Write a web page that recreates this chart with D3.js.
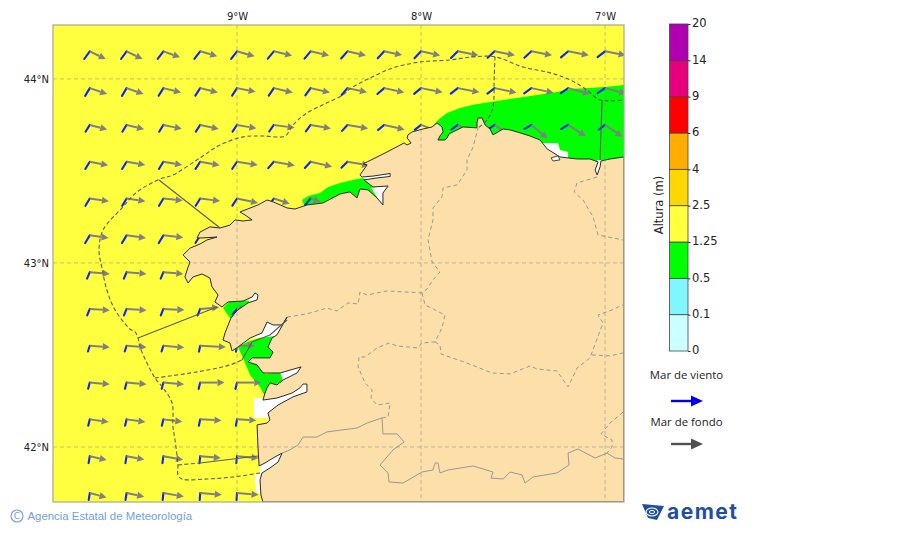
<!DOCTYPE html>
<html>
<head>
<meta charset="utf-8">
<script src="https://cdn.jsdelivr.net/npm/d3@7"></script>
<style>
  body { margin: 0; background: #fff; }
  svg { display: block; }
  text { font-family: "DejaVu Sans", sans-serif; fill: #222; }
</style>
</head>
<body>
<svg id="chart" width="900" height="533"></svg>
<script>
// colorbar
const levels = ['0', '0.1', '0.5', '1.25', '2.5', '4', '6', '9', '14', '20'];
const levelColors = ['#ccffff', '#80f6ff', '#00ff00', '#ffff40', '#ffd700', '#ffae00', '#ff0000', '#e6007e', '#b000b0'];

const lonTicks = [-9, -8, -7];
const latTicks = [44, 43, 42];

// wave grid, one row per latitude, null = over land
const gridLons = [-9.8, -9.6, -9.4, -9.2, -9.0, -8.8, -8.6, -8.4, -8.2, -8.0, -7.8, -7.6, -7.4, -7.2, -7.0];
const gridLats = [44.15, 43.95, 43.75, 43.55, 43.35, 43.15, 42.95, 42.75, 42.55, 42.35, 42.15, 41.95, 41.75];

const windDir = [
  [36, 36, 37, 38, 38, 39, 40, 41, 43, 44, 46, 47, 48, 50, 52],
  [31, 31, 32, 33, 33, 34, 36, 40, 49, 50, 52, 53, 54, 56, 56],
  [32, 32, 32, 33, 34, 35, 36, 42, 50, 52, 54, 56, 60, 60, 53],
  [32, 32, 32, 33, 34, 41, 43, 45],
  [31, 31, 31, 32, 33, 36, 40],
  [31, 31, 31, 32],
  [23, 23, 23],
  [22, 22, 22, 22, 40],
  [18, 18, 18, 12, 10],
  [15, 15, 15, 14, 14],
  [14, 14, 14, 12, 10],
  [10, 10, 8, 6, 6],
  [9, 9, 6, 4, 4]
];
const windHeight = [0.95, 0.9, 0.8, 0.85, 0.85, 0.9, 0.7, 0.7, 0.6, 0.65, 0.65, 0.7, 0.7];

const swellDir = [
  [116, 116, 110, 106, 106, 103, 103, 103, 102, 102, 101, 101, 101, 101, 101],
  [109, 109, 104, 104, 101, 103, 103, 102, 102, 101, 101, 102, 102, 105, 105],
  [105, 104, 102, 102, 100, 98, 100, 100, 103, 110, 118, 125, 130, 123, 124],
  [101, 100, 100, 100, 99, 100, 103, 100],
  [98, 98, 96, 97, 102, 108, 108],
  [98, 98, 96, 96],
  [95, 95, 95],
  [94, 94, 93, 85, 80],
  [94, 94, 95, 93, 90],
  [95, 95, 95, 90, 90],
  [98, 98, 97, 93, 93],
  [103, 101, 100, 95, 95],
  [105, 102, 100, 95, 95]
];
const swellHeight = [
  [1.77, 1.77, 1.77, 1.77, 1.83, 1.88, 1.9, 1.9, 1.83, 1.96, 2.1, 2.07, 2.1, 2.1, 2.1],
  [1.83, 1.8, 1.82, 1.82, 1.9, 1.95, 1.98, 2.0, 2.05, 2.2, 2.2, 2.24, 2.26, 2.26, 2.2],
  [1.8, 1.8, 1.88, 1.9, 1.96, 2.1, 2.06, 2.1, 2.1, 2.0, 2.0, 2.1, 2.1, 2.1, 2.1],
  [1.87, 1.9, 1.9, 1.97, 2.1, 2.13, 2.2, 2.2],
  [1.93, 1.9, 1.94, 2.0, 2.15, 1.67, 1.05],
  [1.9, 1.95, 2.0, 2.0],
  [2.0, 2.0, 2.0],
  [2.0, 2.0, 2.1, 1.9, 1.0],
  [2.0, 2.0, 2.1, 2.57, 1.8],
  [2.0, 2.0, 2.07, 2.43, 2.43],
  [1.9, 1.9, 1.9, 2.13, 1.94],
  [1.73, 1.8, 2.0, 2.07, 2.17],
  [1.73, 1.8, 2.07, 2.17, 2.17]
];

// land outline, lon/lat
const land = [[-6.897,43.576],[-6.973,43.565],[-7.022,43.554],[-7.027,43.522],[-7.043,43.478],[-7.054,43.505],[-7.038,43.549],[-7.082,43.565],[-7.152,43.565],[-7.245,43.576],[-7.315,43.620],[-7.353,43.668],[-7.408,43.690],[-7.462,43.707],[-7.516,43.723],[-7.554,43.728],[-7.609,43.696],[-7.625,43.728],[-7.652,43.750],[-7.668,43.788],[-7.690,43.788],[-7.696,43.761],[-7.696,43.734],[-7.772,43.739],[-7.826,43.712],[-7.848,43.701],[-7.859,43.679],[-7.870,43.668],[-7.908,43.668],[-7.897,43.690],[-7.880,43.712],[-7.886,43.739],[-7.913,43.761],[-7.940,43.739],[-7.989,43.728],[-8.049,43.712],[-8.071,43.696],[-8.076,43.679],[-8.054,43.652],[-8.076,43.641],[-8.092,43.652],[-8.185,43.603],[-8.293,43.549],[-8.315,43.538],[-8.293,43.533],[-8.332,43.478],[-8.321,43.467],[-8.261,43.472],[-8.168,43.486],[-8.168,43.470],[-8.239,43.462],[-8.310,43.451],[-8.261,43.413],[-8.179,43.418],[-8.207,43.380],[-8.207,43.315],[-8.239,43.353],[-8.288,43.397],[-8.332,43.402],[-8.348,43.353],[-8.386,43.386],[-8.440,43.375],[-8.533,43.326],[-8.620,43.315],[-8.685,43.293],[-8.728,43.299],[-8.804,43.332],[-8.837,43.342],[-8.886,43.315],[-8.984,43.277],[-8.957,43.261],[-8.918,43.234],[-8.967,43.228],[-9.011,43.234],[-9.038,43.206],[-9.092,43.190],[-9.147,43.196],[-9.201,43.168],[-9.217,43.136],[-9.185,43.136],[-9.109,43.141],[-9.163,43.125],[-9.201,43.103],[-9.255,43.081],[-9.293,43.043],[-9.255,43.005],[-9.266,42.978],[-9.283,42.924],[-9.266,42.891],[-9.239,42.924],[-9.190,42.940],[-9.147,42.918],[-9.136,42.870],[-9.103,42.826],[-9.120,42.788],[-9.082,42.761],[-9.049,42.788],[-8.967,42.793],[-8.918,42.815],[-8.902,42.837],[-8.886,42.826],[-8.891,42.799],[-8.940,42.783],[-8.995,42.745],[-9.011,42.728],[-9.033,42.701],[-9.065,42.620],[-9.076,42.581],[-9.038,42.565],[-9.027,42.522],[-8.995,42.543],[-8.929,42.592],[-8.864,42.620],[-8.837,42.679],[-8.804,42.663],[-8.755,42.663],[-8.728,42.706],[-8.783,42.609],[-8.810,42.592],[-8.832,42.543],[-8.804,42.516],[-8.821,42.484],[-8.918,42.484],[-8.940,42.462],[-8.891,42.446],[-8.859,42.402],[-8.766,42.402],[-8.652,42.435],[-8.674,42.402],[-8.750,42.364],[-8.783,42.337],[-8.821,42.348],[-8.837,42.321],[-8.848,42.293],[-8.859,42.255],[-8.783,42.266],[-8.701,42.293],[-8.658,42.321],[-8.641,42.342],[-8.620,42.342],[-8.620,42.299],[-8.696,42.272],[-8.777,42.228],[-8.832,42.185],[-8.821,42.147],[-8.837,42.130],[-8.891,42.120],[-8.886,42.000],[-8.880,41.897],[-8.848,41.913],[-8.804,41.940],[-8.755,41.967],[-8.777,41.918],[-8.821,41.886],[-8.864,41.859],[-8.875,41.821],[-8.870,41.739],[-8.859,41.701],[-6.897,41.701]];

// sea classes under the wave arrows
const greenSea = [
  [[-7.935,43.745],[-7.908,43.777],[-7.859,43.815],[-7.788,43.842],[-7.717,43.859],[-7.625,43.875],[-7.478,43.897],[-7.370,43.913],[-7.261,43.929],[-7.174,43.946],[-7.082,43.951],[-6.989,43.957],[-6.897,43.967],[-6.897,43.533],[-7.353,43.533],[-7.679,43.614],[-7.935,43.614]],
  [[-8.647,43.342],[-8.614,43.364],[-8.549,43.380],[-8.505,43.413],[-8.440,43.435],[-8.348,43.456],[-8.315,43.462],[-8.250,43.413],[-8.234,43.342],[-8.533,43.288],[-8.630,43.299]],
  [[-9.076,42.755],[-9.038,42.793],[-8.967,42.799],[-8.902,42.788],[-8.995,42.701],[-9.038,42.701]],
  [[-8.995,42.543],[-8.946,42.571],[-8.875,42.592],[-8.793,42.603],[-8.777,42.527],[-8.777,42.462],[-8.864,42.440],[-8.848,42.397],[-8.750,42.408],[-8.750,42.364],[-8.821,42.310],[-8.848,42.277],[-8.875,42.326],[-8.929,42.391],[-8.967,42.484]]
];
const whiteSea = [
  [[-8.272,43.408],[-8.179,43.418],[-8.207,43.315],[-8.239,43.358]],
  [[-8.321,43.467],[-8.168,43.489],[-8.168,43.467],[-8.310,43.451]],
  [[-8.929,42.810],[-8.902,42.848],[-8.875,42.826],[-8.886,42.793],[-8.940,42.777]],
  [[-8.929,42.592],[-8.864,42.630],[-8.837,42.690],[-8.728,42.717],[-8.793,42.598]],
  [[-8.766,42.408],[-8.647,42.440],[-8.674,42.397],[-8.750,42.359]],
  [[-8.908,42.266],[-8.859,42.266],[-8.603,42.353],[-8.603,42.288],[-8.766,42.212],[-8.832,42.158],[-8.908,42.158]],
  [[-8.880,41.891],[-8.745,41.978],[-8.777,41.908],[-8.864,41.848]],
  [[-8.902,41.853],[-8.864,41.864],[-8.859,41.728],[-8.897,41.761]],
  [[-7.337,43.652],[-7.255,43.652],[-7.245,43.614],[-7.201,43.603],[-7.201,43.560],[-7.255,43.560],[-7.337,43.614]],
  [[-7.016,43.560],[-7.022,43.516],[-7.043,43.473],[-7.060,43.505],[-7.043,43.560]]
];
const islet = [[-7.293,43.571],[-7.255,43.582],[-7.245,43.560],[-7.283,43.554]];

// marine zone limits
const zoneDashed = [
  [[-8.875,41.859],[-9.022,41.837],[-9.163,41.826],[-9.299,41.826],[-9.321,41.848],[-9.321,41.902],[-9.337,42.038],[-9.348,42.109],[-9.353,42.239],[-9.402,42.321],[-9.446,42.375],[-9.527,42.543],[-9.538,42.592],[-9.554,42.625],[-9.582,42.641],[-9.663,42.745],[-9.707,42.853],[-9.734,42.973],[-9.750,43.071],[-9.728,43.179],[-9.625,43.299],[-9.543,43.386],[-9.418,43.456],[-9.348,43.478],[-9.201,43.571],[-9.092,43.641],[-8.967,43.685],[-8.859,43.690],[-8.739,43.690],[-8.696,43.750],[-8.620,43.815],[-8.511,43.870],[-8.424,43.913],[-8.386,43.946],[-8.277,44.005],[-8.152,44.060],[-8.005,44.092],[-7.842,44.103],[-7.717,44.120],[-7.598,44.120],[-7.446,44.065],[-7.299,44.033],[-7.190,43.995],[-7.098,43.940],[-7.027,43.886],[-6.897,43.886]],
  [[-7.598,44.120],[-7.603,43.995],[-7.609,43.848],[-7.641,43.777],[-7.690,43.734]],
  [[-9.446,42.375],[-9.217,42.408],[-9.038,42.446],[-8.973,42.473]],
  [[-9.321,41.902],[-9.201,41.913]]
];
const zoneSolid = [
  [[-8.973,42.473],[-8.918,42.571],[-8.821,42.609],[-8.728,42.690]],
  [[-9.424,43.451],[-9.092,43.190]],
  [[-9.538,42.592],[-9.109,42.761]],
  [[-9.201,41.913],[-8.886,41.951]],
  [[-7.016,43.886],[-7.027,43.560]]
];

// provinces and the Portuguese border
const provinces = [
  [[-8.728,42.706],[-8.658,42.717],[-8.603,42.728],[-8.511,42.755],[-8.457,42.739],[-8.397,42.783],[-8.342,42.777],[-8.332,42.842],[-8.293,42.826],[-8.185,42.848],[-7.995,42.837],[-7.967,42.859],[-7.935,42.908],[-7.897,42.951],[-7.940,43.005],[-7.962,43.125],[-7.935,43.234],[-7.935,43.299],[-7.886,43.359],[-7.880,43.408],[-7.804,43.424],[-7.750,43.505],[-7.750,43.560],[-7.717,43.630],[-7.690,43.734]],
  [[-7.995,42.837],[-7.978,42.772],[-7.870,42.717],[-7.886,42.647],[-7.924,42.571],[-7.995,42.565],[-8.016,42.538],[-8.130,42.549],[-8.174,42.565],[-8.239,42.538],[-8.304,42.489],[-8.337,42.489],[-8.342,42.435],[-8.304,42.348],[-8.266,42.310],[-8.272,42.266],[-8.239,42.228],[-8.168,42.239],[-8.179,42.163],[-8.212,42.158]],
  [[-7.924,42.571],[-7.897,42.554],[-7.891,42.505],[-7.750,42.456],[-7.614,42.402],[-7.516,42.397],[-7.408,42.440],[-7.370,42.424],[-7.261,42.413],[-7.201,42.326],[-7.152,42.429],[-7.082,42.484],[-7.011,42.674],[-7.038,42.717],[-6.962,42.745],[-6.902,42.772]],
  [[-7.071,42.500],[-6.973,42.495],[-6.902,42.511]],
  [[-6.902,42.190],[-6.973,42.130],[-7.022,42.071],[-6.962,42.038],[-6.962,42.000],[-6.989,41.967]],
  [[-7.043,43.467],[-7.152,43.435],[-7.168,43.386],[-7.120,43.342],[-7.065,43.250],[-7.038,43.152],[-6.902,43.125]]
];
const border = [[-8.755,41.967],[-8.712,41.984],[-8.668,42.011],[-8.641,42.054],[-8.565,42.054],[-8.511,42.082],[-8.348,42.103],[-8.293,42.130],[-8.212,42.158],[-8.207,42.071],[-8.130,42.071],[-8.092,42.027],[-8.152,41.984],[-8.223,41.902],[-8.179,41.859],[-8.174,41.810],[-8.098,41.804],[-7.995,41.864],[-7.935,41.875],[-7.924,41.913],[-7.908,41.913],[-7.897,41.859],[-7.853,41.875],[-7.717,41.897],[-7.609,41.864],[-7.620,41.831],[-7.554,41.826],[-7.516,41.864],[-7.451,41.848],[-7.435,41.804],[-7.391,41.837],[-7.261,41.859],[-7.196,41.902],[-7.201,41.967],[-7.147,41.989],[-7.054,41.940],[-6.989,41.967],[-6.946,41.940],[-6.902,41.935]];

const svg = d3.select('#chart');
const plotL = 53, plotR = 624, plotT = 25, plotB = 502;

const x = d3.scaleLinear().domain([-10, -6.897]).range([plotL, plotR]);
const y = d3.scaleLinear().domain([44.293, 41.701]).range([plotT, plotB]);
const arrowLen = d3.scaleLinear().domain([0, 1]).range([0, 10]);

const geoLine = d3.line().x(d => x(d[0])).y(d => y(d[1]));
const smoothLine = d3.line().x(d => x(d[0])).y(d => y(d[1])).curve(d3.curveCatmullRom);

svg.append('clipPath').attr('id', 'plot')
  .append('rect').attr('x', plotL).attr('y', plotT).attr('width', plotR - plotL).attr('height', plotB - plotT);

const map = svg.append('g').attr('clip-path', 'url(#plot)');

map.append('rect').attr('x', plotL).attr('y', plotT).attr('width', plotR - plotL).attr('height', plotB - plotT).attr('fill', levelColors[3]);

map.append('g').selectAll('path').data(whiteSea).join('path')
  .attr('d', d => geoLine(d) + 'Z').attr('fill', '#fff');
map.append('g').selectAll('path').data(greenSea).join('path')
  .attr('d', d => geoLine(d) + 'Z').attr('fill', levelColors[2]);
// the white of the rias sits on top of the green in places
map.append('g').selectAll('path').data([whiteSea[0], whiteSea[2], whiteSea[4], whiteSea[8], whiteSea[9]]).join('path')
  .attr('d', d => geoLine(d) + 'Z').attr('fill', '#fff');

// wave arrows: wind sea ends where the swell arrow starts
const rad = d => d * Math.PI / 180;
gridLats.forEach((lat, r) => {
  gridLons.forEach((lon, c) => {
    if (swellDir[r][c] == null) return;
    const px = x(lon), py = y(lat);
    const wl = arrowLen(windHeight[r]), wa = rad(windDir[r][c]);
    map.append('line')
      .attr('x1', px - wl * Math.sin(wa)).attr('y1', py + wl * Math.cos(wa))
      .attr('x2', px).attr('y2', py)
      .attr('stroke', '#0a28f0').attr('stroke-width', 2.1).attr('stroke-linecap', 'round');
    const sl = arrowLen(swellHeight[r][c]), sa = rad(swellDir[r][c]);
    const ex = px + sl * Math.sin(sa), ey = py - sl * Math.cos(sa);
    const bx = ex - 7 * Math.sin(sa), by = ey + 7 * Math.cos(sa);
    map.append('line')
      .attr('x1', px).attr('y1', py).attr('x2', bx).attr('y2', by)
      .attr('stroke', '#808080').attr('stroke-width', 2);
    map.append('path')
      .attr('d', `M${ex},${ey}L${bx + 3.6 * Math.cos(sa)},${by + 3.6 * Math.sin(sa)}L${bx - 3.6 * Math.cos(sa)},${by - 3.6 * Math.sin(sa)}Z`)
      .attr('fill', '#808080');
  });
});

map.append('path').attr('d', geoLine(land) + 'Z')
  .attr('fill', '#fddfa9').attr('stroke', '#2a2a2a').attr('stroke-width', 1).attr('stroke-linejoin', 'round');
map.append('path').attr('d', geoLine(islet) + 'Z')
  .attr('fill', '#fff').attr('stroke', '#333').attr('stroke-width', 0.9);

// land boundaries
map.append('g').selectAll('path').data(provinces).join('path')
  .attr('d', d => geoLine(d)).attr('fill', 'none')
  .attr('stroke', '#98979f').attr('stroke-width', 1).attr('stroke-dasharray', '4,3');
map.append('path').attr('d', geoLine(border)).attr('fill', 'none')
  .attr('stroke', '#98979f').attr('stroke-width', 1);

// graticule
map.append('g').selectAll('line').data(lonTicks).join('line')
  .attr('x1', d => x(d)).attr('x2', d => x(d)).attr('y1', plotT).attr('y2', plotB)
  .attr('stroke', '#8a8a80').attr('stroke-opacity', 0.5).attr('stroke-dasharray', '4,3');
map.append('g').selectAll('line').data(latTicks).join('line')
  .attr('x1', plotL).attr('x2', plotR).attr('y1', d => y(d)).attr('y2', d => y(d))
  .attr('stroke', '#8a8a80').attr('stroke-opacity', 0.5).attr('stroke-dasharray', '4,3');

// zones
map.append('g').selectAll('path').data(zoneDashed).join('path')
  .attr('d', d => smoothLine(d)).attr('fill', 'none')
  .attr('stroke', '#5c5c5c').attr('stroke-width', 1.1).attr('stroke-dasharray', '4,2.5');
map.append('g').selectAll('path').data(zoneSolid).join('path')
  .attr('d', d => geoLine(d)).attr('fill', 'none')
  .attr('stroke', '#5c5c5c').attr('stroke-width', 1.1);

svg.append('rect').attr('x', plotL).attr('y', plotT).attr('width', plotR - plotL).attr('height', plotB - plotT)
  .attr('fill', 'none').attr('stroke', '#aaa78c').attr('stroke-width', 1.2);

// lon / lat labels
const xAxis = svg.append('g').attr('transform', `translate(0,${plotT})`)
  .call(d3.axisTop(x).tickValues(lonTicks).tickSize(0).tickPadding(5).tickFormat(d => `${-d}°W`));
const yAxis = svg.append('g').attr('transform', `translate(${plotL},0)`)
  .call(d3.axisLeft(y).tickValues(latTicks).tickSize(0).tickPadding(4).tickFormat(d => `${d}°N`));
[xAxis, yAxis].forEach(a => {
  a.select('.domain').remove();
  a.selectAll('text').attr('font-size', 10).attr('font-family', '"DejaVu Sans", sans-serif').attr('fill', '#222');
});

// colorbar
const barY = d3.scalePoint().domain(levels).range([351, 24]);
const barX = 669.5, barW = 18.5;
svg.append('g').selectAll('rect').data(levelColors).join('rect')
  .attr('x', barX).attr('width', barW)
  .attr('y', (d, i) => barY(levels[i + 1]))
  .attr('height', (d, i) => barY(levels[i]) - barY(levels[i + 1]))
  .attr('fill', d => d).attr('stroke', '#444').attr('stroke-width', 0.8);
const barAxis = svg.append('g').attr('transform', `translate(${barX + barW},0)`)
  .call(d3.axisRight(barY).tickSize(2.5).tickPadding(1.5));
barAxis.select('.domain').remove();
barAxis.selectAll('line').attr('stroke', '#333');
barAxis.selectAll('text').attr('font-size', 11.5).attr('font-family', '"DejaVu Sans", sans-serif').attr('fill', '#222').attr('dy', '0.25em');
svg.append('text').attr('transform', 'translate(663,205) rotate(-90)')
  .attr('text-anchor', 'middle').attr('font-size', 11.5).text('Altura (m)');

// arrow legend
function legendArrow(ay, label, labelY, color) {
  svg.append('text').attr('x', 686.5).attr('y', labelY).attr('text-anchor', 'middle')
    .attr('font-size', 11.4).style('font-family', '"Open Sans", sans-serif').text(label);
  svg.append('line').attr('x1', 671).attr('x2', 692).attr('y1', ay).attr('y2', ay)
    .attr('stroke', color).attr('stroke-width', 2.4);
  svg.append('path').attr('d', `M703,${ay}L691,${ay - 5.5}L691,${ay + 5.5}Z`).attr('fill', color);
}
legendArrow(401, 'Mar de viento', 379, '#0000f0');
legendArrow(444, 'Mar de fondo', 426, '#505050');

// footer
svg.append('circle').attr('cx', 17).attr('cy', 516).attr('r', 6).attr('fill', 'none')
  .attr('stroke', '#6f9fe4').attr('stroke-width', 1.1);
svg.append('text').attr('x', 17).attr('y', 519).attr('text-anchor', 'middle')
  .attr('font-size', 9).style('fill', '#6f9fe4').text('C');
svg.append('text').attr('x', 27.5).attr('y', 520).attr('font-size', 11.4)
  .style('font-family', '"Liberation Sans", sans-serif').style('fill', '#6f9fe4')
  .text('Agencia Estatal de Meteorología');

// aemet logo
const logo = svg.append('g').attr('fill', 'none').attr('stroke', '#1f4f9e').attr('stroke-width', 1.6);
logo.append('path').attr('d', 'M642,504L664,506L657,520L648,518Z').attr('fill', '#1f4f9e').attr('stroke', 'none');
logo.append('ellipse').attr('cx', 652).attr('cy', 512).attr('rx', 6).attr('ry', 4).attr('stroke', '#fff').attr('stroke-width', 1.1);
logo.append('ellipse').attr('cx', 652).attr('cy', 512).attr('rx', 2.6).attr('ry', 1.6).attr('stroke', '#fff').attr('stroke-width', 1);
svg.append('text').attr('x', 667).attr('y', 519).attr('font-size', 21).attr('font-weight', 700)
  .style('font-family', 'Inter, sans-serif').style('fill', '#1f4f9e').attr('textLength', 70).text('aemet');
</script>
</body>
</html>
